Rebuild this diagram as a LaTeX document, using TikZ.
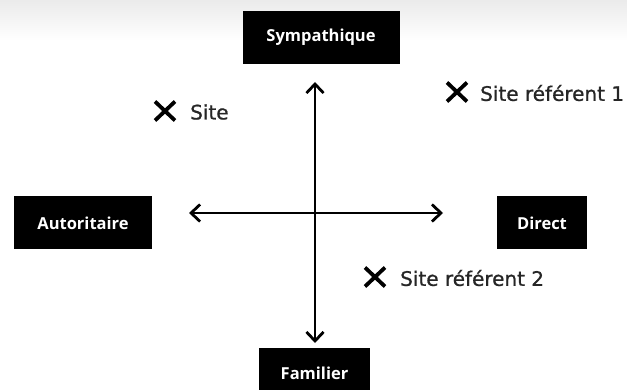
\documentclass[tikz,border=0pt]{standalone}
\usepackage{fontspec}
\setmainfont{Open Sans}
\newfontfamily\sitefont[FakeBold=0.9]{DejaVu Sans}
\usetikzlibrary{arrows.meta}
\begin{document}
\begin{tikzpicture}[x=1pt,y=-1pt,
  label box/.style={fill=black,text=white,font=\fontsize{16.5}{19}\selectfont\bfseries,inner sep=0pt,minimum height=53pt},
  axis/.style={line width=2.8pt,{Straight Barb[length=9pt,width=17pt,line width=2.8pt]}-{Straight Barb[length=9pt,width=17pt,line width=2.8pt]}},
  mark x/.style={line width=3.8pt},
  site text/.style={font=\sitefont\fontsize{20}{22}\selectfont,anchor=west,inner sep=0pt,text=black!85}]
\useasboundingbox (0,0) rectangle (627,390);
\shade[top color=black!8,bottom color=white] (0,0) rectangle (627,40);
% boxes
\node[label box,minimum width=157pt] (symp) at (321,37.5) {Sympathique};
\node[label box,minimum width=138pt] (auto) at (83,223) {Autoritaire};
\node[label box,minimum width=90pt] (dir) at (542,223) {Direct};
\node[label box,minimum width=111pt,minimum height=50pt] (fam) at (314.5,373) {Familier};
% axes
\coordinate (top) at (315,82);
\coordinate (bot) at (315,343);
\coordinate (left) at (189,213);
\coordinate (right) at (443,213);
\draw[axis] (top) -- (bot);
\draw[axis] (left) -- (right);
% site marks
\foreach \n/\cx/\cy in {s0/165/111, s1/457/92, s2/375/277}{
  \coordinate (\n) at (\cx,\cy);
  \draw[mark x] ([shift={(-10,-9.5)}]\n) -- ([shift={(10,9.5)}]\n);
  \draw[mark x] ([shift={(-10,9.5)}]\n) -- ([shift={(10,-9.5)}]\n);
}
\node[site text] (t0) at (190,112) {Site};
\node[site text] (t1) at (480,93) {Site référent 1};
\node[site text] (t2) at (400,278) {Site référent 2};
\end{tikzpicture}
\end{document}
